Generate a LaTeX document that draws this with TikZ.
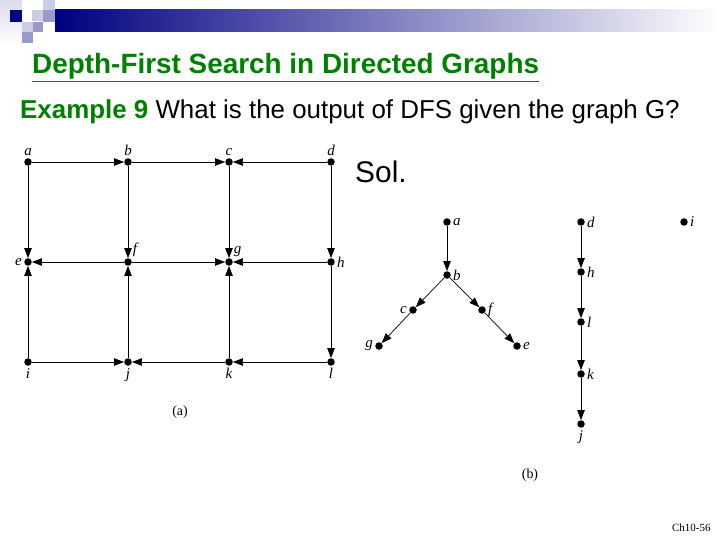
\documentclass[tikz,border=0pt]{standalone}
\usepackage{fontspec}
\setmainfont{Liberation Sans}
\newfontfamily\tms{Liberation Serif}
\usetikzlibrary{arrows.meta}
\definecolor{ttlgreen}{RGB}{0,128,0}
\definecolor{navy}{RGB}{0,0,128}
\definecolor{lav}{RGB}{204,204,230}
\definecolor{lavm}{RGB}{153,153,204}
\tikzset{
 vtx/.style={circle,fill=black,inner sep=0pt,minimum size=7.5bp},
 lbl/.style={font=\tms\itshape\fontsize{15}{15}\selectfont,inner sep=2bp},
 arc/.style={-{Triangle[length=10bp,width=7.5bp]},line width=0.7bp},
 figcap/.style={font=\tms\fontsize{14}{14}\selectfont},
}
\begin{document}
\begin{tikzpicture}[x=1bp,y=-1bp]
 \useasboundingbox[fill=white](0,0) rectangle (720,540);
 \shade[top color=lav!70,bottom color=white](0,0) rectangle (22,45);
 \shade[left color=navy,right color=white](55,10) rectangle (720,32);
 \fill[navy](10,10) rectangle (22,22);
 \fill[lav](32,10) rectangle (43,21);
 \fill[lav](43,0) rectangle (55,10);
 \fill[lavm](43,10) rectangle (55,22);
 \fill[lav](22,22) rectangle (33,32);
 \fill[lavm](33,22) rectangle (43,32);
 \fill[lavm](22,32) rectangle (33,43);
 \node[anchor=base west,inner sep=0,text=ttlgreen,font=\bfseries\fontsize{28}{28}\selectfont] (ttl) at (32,74) {\underline{Depth-First Search in Directed Graphs}};
 \node[anchor=base west,inner sep=0,font=\fontsize{26}{26}\selectfont] (ex) at (20,119) {\textcolor{ttlgreen}{\bfseries Example 9} What is the output of DFS given the graph G?};
 \node[anchor=base west,inner sep=0,font=\fontsize{30}{30}\selectfont] (sol) at (355,183) {Sol.};
 \node[vtx,label={[lbl]above:a}] (a) at (28,162) {};
 \node[vtx,label={[lbl]above:b}] (b) at (128,162) {};
 \node[vtx,label={[lbl]above:c}] (c) at (229,162) {};
 \node[vtx,label={[lbl]above:d}] (d) at (331,162) {};
 \node[vtx,label={[lbl]left:e}] (e) at (28,262) {};
 \node[vtx,label={[lbl]above right:f}] (f) at (128,262) {};
 \node[vtx,label={[lbl]above right:g}] (g) at (229,262) {};
 \node[vtx,label={[lbl]right:h}] (h) at (331,262) {};
 \node[vtx,label={[lbl]below:i}] (i) at (28,362) {};
 \node[vtx,label={[lbl]below:j}] (j) at (128,362) {};
 \node[vtx,label={[lbl]below:k}] (k) at (229,362) {};
 \node[vtx,label={[lbl]below:l}] (l) at (331,362) {};
 \draw[arc](a)--(b);
 \draw[arc](b)--(c);
 \draw[arc](d)--(c);
 \draw[arc](a)--(e);
 \draw[arc](b)--(f);
 \draw[arc](c)--(g);
 \draw[arc](d)--(h);
 \draw[arc](f)--(e);
 \draw[arc](f)--(g);
 \draw[arc](h)--(g);
 \draw[arc](i)--(e);
 \draw[arc](j)--(f);
 \draw[arc](k)--(g);
 \draw[arc](h)--(l);
 \draw[arc](i)--(j);
 \draw[arc](k)--(j);
 \draw[arc](l)--(k);
 \node[figcap] (capa) at (180,412) {(a)};
 \node[vtx,label={[lbl]right:a}] (ta) at (447,222) {};
 \node[vtx,label={[lbl]right:b}] (tb) at (447,275) {};
 \node[vtx,label={[lbl]left:c}] (tc) at (413,310) {};
 \node[vtx,label={[lbl]left:g}] (tg) at (379,346) {};
 \node[vtx,label={[lbl]right:f}] (tf) at (482,310) {};
 \node[vtx,label={[lbl]right:e}] (te) at (517,346) {};
 \node[vtx,label={[lbl]right:d}] (td) at (581,222) {};
 \node[vtx,label={[lbl]right:h}] (th) at (581,272) {};
 \node[vtx,label={[lbl]right:l}] (tl) at (581,322) {};
 \node[vtx,label={[lbl]right:k}] (tk) at (581,374) {};
 \node[vtx,label={[lbl]below:j}] (tj) at (581,424) {};
 \node[vtx,label={[lbl]right:i}] (ti) at (684,222) {};
 \draw[arc](ta)--(tb);
 \draw[arc](tb)--(tc);
 \draw[arc](tc)--(tg);
 \draw[arc](tb)--(tf);
 \draw[arc](tf)--(te);
 \draw[arc](td)--(th);
 \draw[arc](th)--(tl);
 \draw[arc](tl)--(tk);
 \draw[arc](tk)--(tj);
 \node[figcap] (capb) at (530,475) {(b)};
 \node[anchor=east,font=\tms\fontsize{11}{11}\selectfont] (pg) at (714,528) {Ch10-56};
\end{tikzpicture}
\end{document}
